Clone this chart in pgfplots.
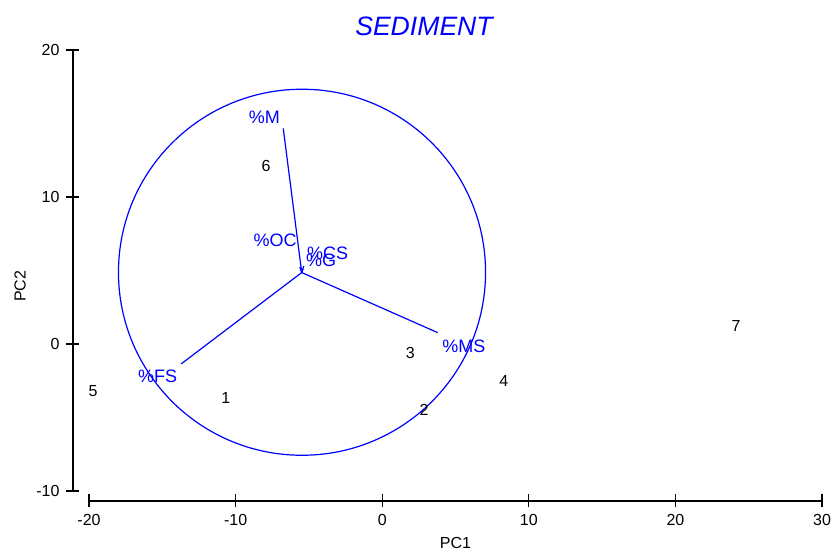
\documentclass[border=0pt]{standalone}
\usepackage{pgfplots}
\usepackage{pgfplotstable}
\pgfplotsset{compat=1.18}
\usepackage{fontspec}
\setmainfont{Liberation Sans}

\pgfplotstableread{
x y label
-10.66 -3.66 1
2.85 -4.49 2
1.92 -0.62 3
8.30 -2.52 4
-19.73 -3.20 5
-7.92 12.08 6
24.14 1.22 7
}\samples

\pgfplotstableread{
x y label
-8.04 15.45 {\%M}
-7.31 7.05 {\%OC}
-3.72 6.18 {\%CS}
-4.17 5.68 {\%G}
5.57 -0.19 {\%MS}
-15.32 -2.23 {\%FS}
}\varlabels

\begin{document}
\begin{tikzpicture}
\begin{axis}[
  scale only axis, width=366.5pt, height=220.5pt,
  xmin=-20, xmax=30, ymin=-10, ymax=20,
  separate axis lines,
  axis x line*=bottom, axis y line*=left,
  axis x line shift=5pt, axis y line shift=8pt,
  axis line style={-, line width=0.7pt, black},
  xtick={-20,-10,0,10,20,30}, ytick={-10,0,10,20},
  tick align=center, major tick length=6.5pt,
  tick style={line width=0.6pt, black},
  tick label style={font=\fontsize{8}{9.6}\selectfont},
  /pgf/number format/assume math mode=true,
  clip=false,
]
% correlation circle
\draw[blue, line width=0.6pt] (axis cs:-5.47,4.88) ellipse [x radius=12.52, y radius=12.45];
% vectors
\addplot[blue, line width=0.6pt] coordinates {(-5.49,4.86) (-6.75,14.67)};
\addplot[blue, line width=0.6pt] coordinates {(-5.49,4.86) (3.79,0.77)};
\addplot[blue, line width=0.6pt] coordinates {(-5.49,4.86) (-13.72,-1.36)};
\addplot[blue, line width=0.6pt] coordinates {(-5.49,4.86) (-5.62,5.25)};
\addplot[blue, line width=0.6pt] coordinates {(-5.49,4.86) (-5.35,5.30)};
\addplot[blue, line width=0.6pt] coordinates {(-5.49,4.86) (-5.40,5.10)};
% variable labels
\addplot[draw=none, mark=none, nodes near coords, point meta=explicit symbolic,
  every node near coord/.style={anchor=center, text=blue, inner sep=0pt,
  font=\fontsize{9}{10.8}\selectfont}]
  table[meta=label] {\varlabels};
% sample labels
\addplot[draw=none, mark=none, nodes near coords, point meta=explicit symbolic,
  every node near coord/.style={anchor=center, text=black, inner sep=0pt,
  font=\fontsize{8}{9.6}\selectfont}]
  table[meta=label] {\samples};
\node[text=blue, font=\fontsize{13.3}{16}\selectfont\itshape] at ([yshift=12pt]rel axis cs:0.457,1) {SEDIMENT};
\node[font=\fontsize{8}{9.6}\selectfont] at ([yshift=-26pt]rel axis cs:0.5,0) {PC1};
\node[font=\fontsize{8}{9.6}\selectfont, rotate=90] at ([xshift=-34.5pt]rel axis cs:0,0.464) {PC2};
\end{axis}
\pgfresetboundingbox
\path[use as bounding box] ([xshift=-44.5pt,yshift=-30.5pt]current axis.south west) rectangle ([xshift=4.5pt,yshift=25pt]current axis.north east);
\end{tikzpicture}
\end{document}
